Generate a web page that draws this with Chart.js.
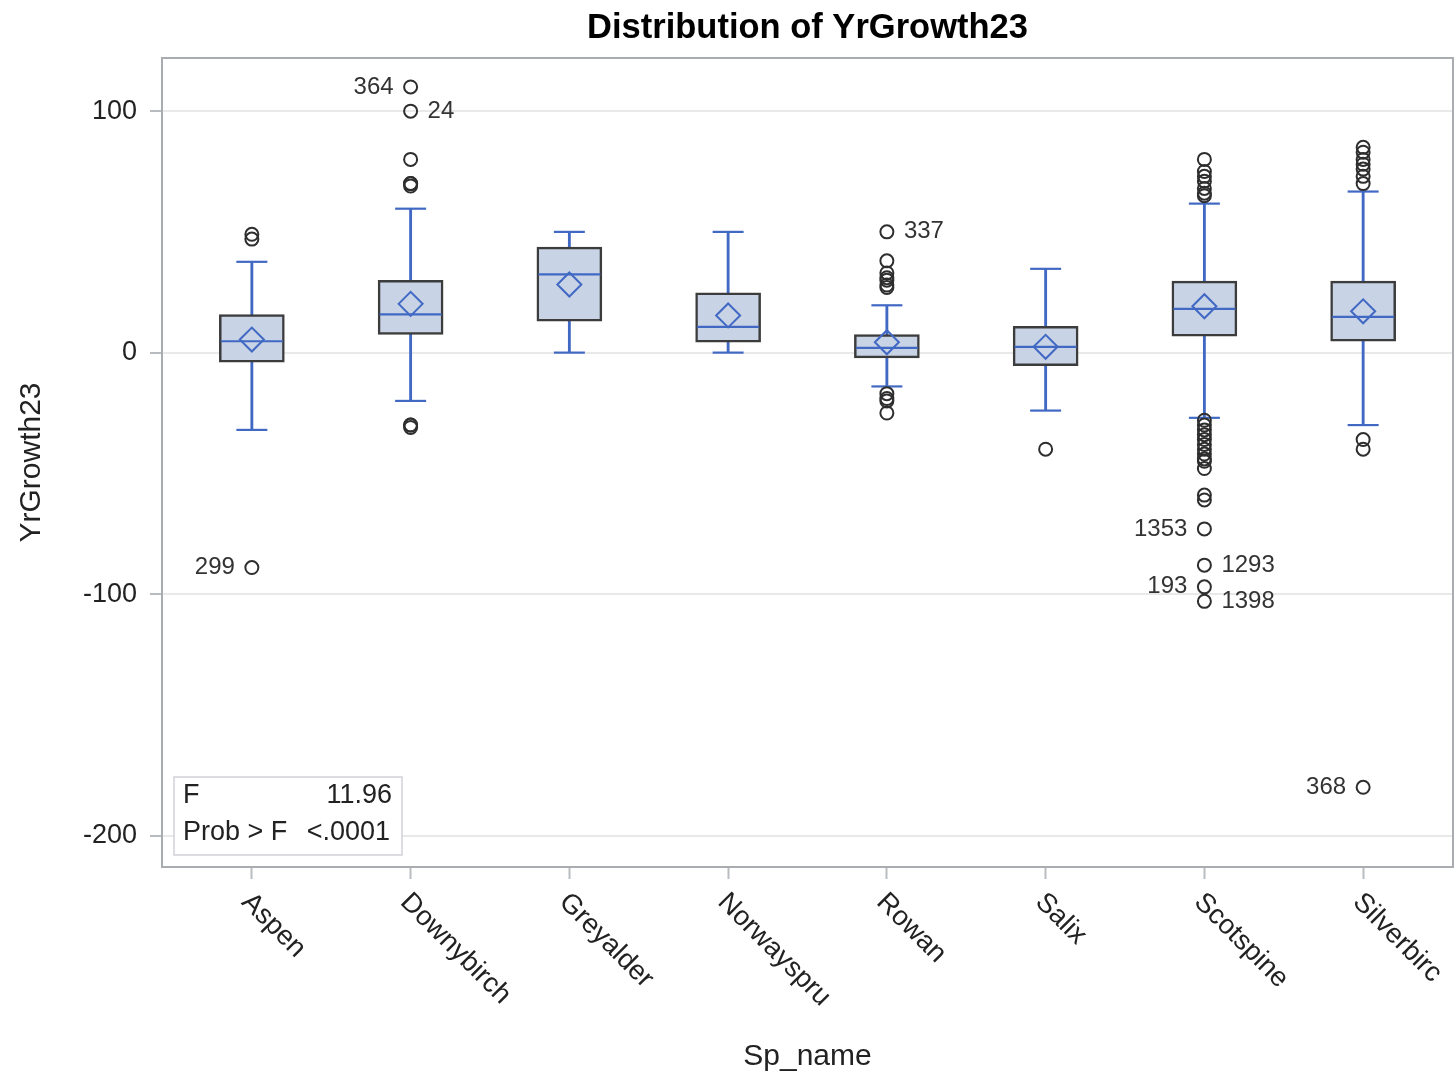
<!DOCTYPE html>
<html>
<head>
<meta charset="utf-8">
<title>Distribution of YrGrowth23</title>
<script src="https://cdn.jsdelivr.net/npm/chart.js@4.4.1/dist/chart.umd.min.js"></script>
<style>
  html, body { margin: 0; padding: 0; background: #fff; }
  canvas { display: block; }
</style>
</head>
<body>
<canvas id="boxChart" width="1455" height="1074"></canvas>
<script>
// categories and five-number summaries
const species = ['Aspen', 'Downybirch', 'Greyalder', 'Norwayspru', 'Rowan', 'Salix', 'Scotspine', 'Silverbirc'];
const whiskerLow = [-32, -20, 0, 0, -14, -24, -27, -30];
const q1 = [-4, 7.5, 13, 4.3, -2.2, -5.4, 6.8, 4.7];
const median = [4.7, 15.8, 32.4, 10.7, 2, 2.4, 18.1, 14.8];
const mean = [5.4, 20.2, 28.2, 15.4, 4.3, 2.4, 19.2, 17.1];
const q3 = [15.8, 29.9, 43.7, 24.8, 7.5, 10.9, 29.6, 29.6];
const whiskerHigh = [37.6, 59.6, 50, 50, 19.6, 34.7, 61.7, 66.7];

// outliers per species
const outliers = [
  [49, 47, -89],
  [110, 100, 80, 70, 70, 69, -30, -30, -31],
  [],
  [],
  [50, 38, 33, 31, 30, 28, 27, -17, -19, -20, -25],
  [-40],
  [80, 75, 73, 71, 68, 66, 65, -28, -30, -32, -34, -36, -38, -40, -42, -44, -45, -48, -59, -61, -73, -88, -97, -103],
  [85, 83, 80, 78, 76, 73, 70, -36, -40, -180]
];

// labelled observations
const idSpecies = [0, 1, 1, 4, 6, 6, 6, 6, 7];
const idValues = [-89, 110, 100, 50, -73, -88, -97, -103, -180];
const idLabels = ['299', '364', '24', '337', '1353', '1293', '193', '1398', '368'];
const idSides = ['left', 'left', 'right', 'right', 'left', 'right', 'left', 'right', 'left'];

const yTicks = [-200, -100, 0, 100];
const statF = '11.96';
const statP = '<.0001';

const BLUE = '#4169c4';
const FONT = "'Liberation Sans', Arial, sans-serif";
Chart.defaults.font.family = FONT;
Chart.defaults.color = '#222';

const byCat = (arr) => arr.map((v, i) => ({ x: i, y: v }));

const annotate = {
  id: 'annotate',
  afterDraw(chart) {
    const { ctx, chartArea: a, scales: { x, y } } = chart;
    ctx.save();

    // plot frame
    ctx.strokeStyle = '#a9adb2';
    ctx.lineWidth = 2;
    ctx.strokeRect(a.left, a.top, a.right - a.left, a.bottom - a.top);

    // category labels, turned clockwise
    ctx.fillStyle = '#222';
    ctx.font = '27.5px ' + FONT;
    ctx.textAlign = 'left';
    ctx.textBaseline = 'middle';
    species.forEach((name, i) => {
      ctx.save();
      ctx.translate(x.getPixelForValue(i) - 6, a.bottom + 31);
      ctx.rotate(Math.PI / 4);
      ctx.fillText(name, 0, 0);
      ctx.restore();
    });

    // observation ids next to outliers
    ctx.font = '24px ' + FONT;
    ctx.fillStyle = '#333';
    idLabels.forEach((txt, k) => {
      const px = x.getPixelForValue(idSpecies[k]);
      const py = y.getPixelForValue(idValues[k]);
      const left = idSides[k] === 'left';
      ctx.textAlign = left ? 'right' : 'left';
      ctx.fillText(txt, px + (left ? -17 : 17), py);
    });

    // F statistic inset
    const bx = a.left + 12, by = a.bottom - 90;
    ctx.fillStyle = '#fff';
    ctx.fillRect(bx, by, 228, 78);
    ctx.strokeStyle = '#cfd2d6';
    ctx.lineWidth = 1.5;
    ctx.strokeRect(bx, by, 228, 78);
    ctx.fillStyle = '#222';
    ctx.font = '27px ' + FONT;
    ctx.textAlign = 'left';
    ctx.fillText('F', bx + 9, by + 19);
    ctx.fillText('Prob > F', bx + 9, by + 56);
    ctx.textAlign = 'right';
    ctx.fillText(statF, bx + 218, by + 19);
    ctx.fillText(statP, bx + 216, by + 56);

    ctx.restore();
  }
};

new Chart(document.getElementById('boxChart'), {
  type: 'scatter',
  data: {
    datasets: [
      {
        type: 'bar',
        data: species.map((s, i) => ({ x: i, y: [whiskerLow[i], whiskerHigh[i]] })),
        backgroundColor: BLUE,
        barThickness: 2.2,
        grouped: false,
        order: 6
      },
      {
        type: 'bar',
        data: species.map((s, i) => ({ x: i, y: [q1[i], q3[i]] })),
        backgroundColor: '#c8d3e5',
        borderColor: '#3c3c3c',
        borderWidth: 2.5,
        borderSkipped: false,
        barThickness: 65,
        grouped: false,
        order: 5
      },
      {
        data: byCat(whiskerLow).concat(byCat(whiskerHigh)),
        pointStyle: 'line',
        pointRadius: 15.5,
        borderColor: BLUE,
        borderWidth: 2.2,
        order: 4
      },
      {
        data: byCat(median),
        pointStyle: 'line',
        pointRadius: 31,
        borderColor: BLUE,
        borderWidth: 2.2,
        order: 3
      },
      {
        data: byCat(mean),
        pointStyle: 'rectRot',
        pointRadius: 12,
        borderColor: BLUE,
        backgroundColor: 'rgba(0,0,0,0)',
        borderWidth: 2,
        order: 2
      },
      {
        data: outliers.flatMap((vals, i) => vals.map(v => ({ x: i, y: v }))),
        pointStyle: 'circle',
        pointRadius: 6.5,
        borderColor: '#2e2e2e',
        backgroundColor: 'rgba(0,0,0,0)',
        borderWidth: 2,
        order: 1
      }
    ]
  },
  options: {
    responsive: false,
    animation: false,
    events: [],
    layout: { autoPadding: false, padding: { left: 0, right: 2, top: 0, bottom: 0 } },
    plugins: {
      legend: { display: false },
      tooltip: { enabled: false },
      title: {
        display: true,
        fullSize: false,
        text: 'Distribution of YrGrowth23',
        color: '#000',
        font: { size: 34.5, weight: 'bold', lineHeight: 1.2 },
        padding: { top: 8, bottom: 8.6 }
      }
    },
    scales: {
      x: {
        type: 'linear',
        min: -0.566,
        max: 7.566,
        offset: false,
        afterBuildTicks: s => { s.ticks = species.map((c, i) => ({ value: i })); },
        afterFit: s => { s.height = 207; },
        ticks: { display: false },
        grid: { drawOnChartArea: false, drawTicks: true, tickLength: 12, tickColor: '#b8bcc0', tickWidth: 2, offset: false },
        border: { display: false },
        title: {
          display: true,
          text: 'Sp_name',
          color: '#222',
          font: { size: 30, lineHeight: 1 },
          padding: { top: 0, bottom: 2.5 }
        }
      },
      y: {
        min: -213,
        max: 122,
        afterBuildTicks: s => { s.ticks = yTicks.map(v => ({ value: v })); },
        afterFit: s => { s.width = 162; },
        ticks: { font: { size: 27 }, color: '#222', padding: 13 },
        grid: { color: '#e9e9e9', lineWidth: 2, drawTicks: true, tickLength: 12, tickColor: '#b8bcc0' },
        border: { display: false },
        title: {
          display: true,
          text: 'YrGrowth23',
          color: '#222',
          font: { size: 30, lineHeight: 1 },
          padding: { top: 17, bottom: 0 }
        }
      }
    }
  },
  plugins: [annotate]
});
</script>
</body>
</html>
